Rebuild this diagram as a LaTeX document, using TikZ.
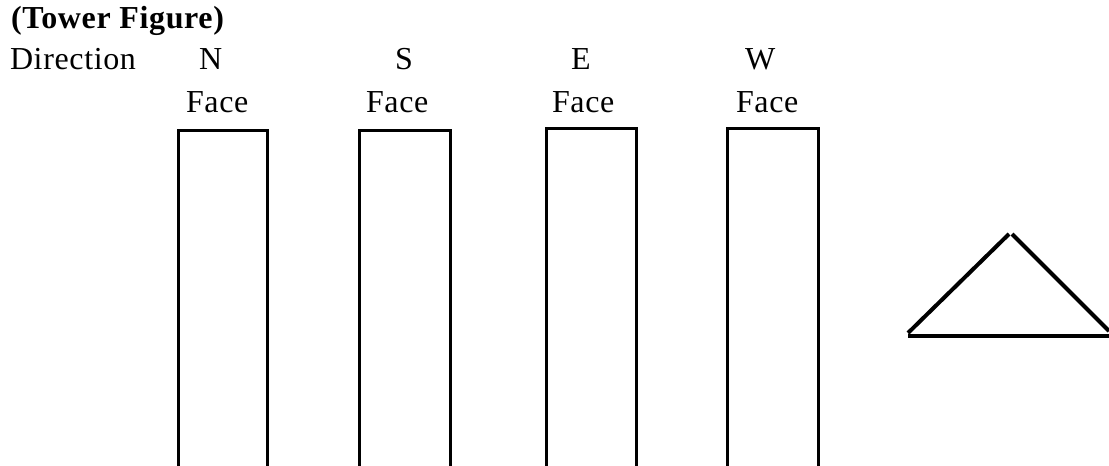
\documentclass[tikz,border=0pt]{standalone}
\usepackage{fontspec}
\setmainfont{Liberation Serif}[LetterSpace=2]
\begin{document}
\begin{tikzpicture}[x=1pt,y=-1pt,
  lbl/.style={anchor=base west,inner sep=0pt,outer sep=0pt,
    font=\fontsize{32}{38}\selectfont},
  tower/.style={line width=3pt,line join=miter},
  roof/.style={line width=4pt}]
\useasboundingbox (0,0) rectangle (1109,466);

% headings
\node[lbl] (title) at (11,28) {\textbf{(Tower Figure)}};
\node[lbl] (dir)   at (10,69) {Direction};

% face letters
\node[lbl] (n) at (199,69) {N};
\node[lbl] (s) at (395,69) {S};
\node[lbl] (e) at (571,69) {E};
\node[lbl] (w) at (745,69) {W};

\node[lbl] (fn) at (186,112.5) {Face};
\node[lbl] (fs) at (366,112.5) {Face};
\node[lbl] (fe) at (552,112.5) {Face};
\node[lbl] (fw) at (736,112.5) {Face};

% towers, open at the foot
\draw[tower] (178,466) -- (178,130) -- (267,130) -- (267,466);
\draw[tower] (359,466) -- (359,130) -- (450,130) -- (450,466);
\draw[tower] (546,466) -- (546,128) -- (636,128) -- (636,466);
\draw[tower] (727,466) -- (727,128) -- (818,128) -- (818,466);

% roof triangle
\coordinate (tl) at (908,333);
\coordinate (ta) at (1010,234);
\coordinate (tr) at (1109,331);
\draw[roof] (tl) -- ([xshift=-1]ta);
\draw[roof] ([xshift=2]ta) -- (tr);
\draw[roof] (908,336) -- (1109,336);
\end{tikzpicture}
\end{document}
